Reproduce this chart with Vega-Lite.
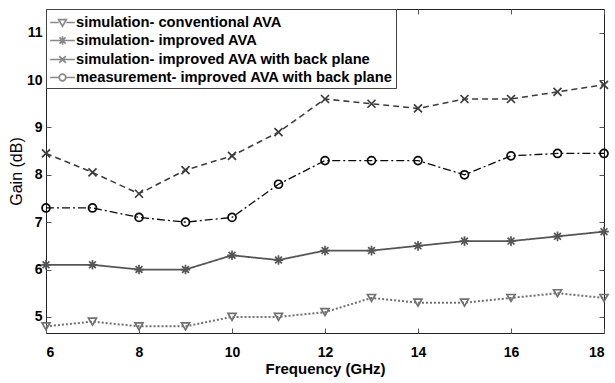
{
  "$schema": "https://vega.github.io/schema/vega-lite/v6.json",
  "width": 558,
  "height": 324,
  "autosize": {"type": "none"},
  "padding": {"left": 46, "top": 9, "right": 11, "bottom": 50},
  "background": "white",
  "config": {
    "view": {"stroke": "#222", "strokeWidth": 1},
    "font": "Liberation Sans",
    "legend": {
      "orient": "none",
      "legendX": 0,
      "legendY": 0,
      "labelFont": "Liberation Sans",
      "labelFontSize": 14.7,
      "labelFontWeight": "bold",
      "labelColor": "black",
      "fillColor": "white",
      "strokeColor": "#444",
      "padding": 3,
      "rowPadding": 0,
      "symbolOpacity": 1,
      "symbolStrokeWidth": 1.7,
      "symbolSize": 361,
      "symbolOffset": 3,
      "labelOffset": 3,
      "labelLimit": 0,
      "cornerRadius": 0
    }
  },
  "data": {
    "values": [
      {"f": 6, "g": 4.8, "s": "simulation- conventional AVA"},
      {"f": 7, "g": 4.9, "s": "simulation- conventional AVA"},
      {"f": 8, "g": 4.8, "s": "simulation- conventional AVA"},
      {"f": 9, "g": 4.8, "s": "simulation- conventional AVA"},
      {"f": 10, "g": 5.0, "s": "simulation- conventional AVA"},
      {"f": 11, "g": 5.0, "s": "simulation- conventional AVA"},
      {"f": 12, "g": 5.1, "s": "simulation- conventional AVA"},
      {"f": 13, "g": 5.4, "s": "simulation- conventional AVA"},
      {"f": 14, "g": 5.3, "s": "simulation- conventional AVA"},
      {"f": 15, "g": 5.3, "s": "simulation- conventional AVA"},
      {"f": 16, "g": 5.4, "s": "simulation- conventional AVA"},
      {"f": 17, "g": 5.5, "s": "simulation- conventional AVA"},
      {"f": 18, "g": 5.4, "s": "simulation- conventional AVA"},
      {"f": 6, "g": 6.1, "s": "simulation- improved AVA"},
      {"f": 7, "g": 6.1, "s": "simulation- improved AVA"},
      {"f": 8, "g": 6.0, "s": "simulation- improved AVA"},
      {"f": 9, "g": 6.0, "s": "simulation- improved AVA"},
      {"f": 10, "g": 6.3, "s": "simulation- improved AVA"},
      {"f": 11, "g": 6.2, "s": "simulation- improved AVA"},
      {"f": 12, "g": 6.4, "s": "simulation- improved AVA"},
      {"f": 13, "g": 6.4, "s": "simulation- improved AVA"},
      {"f": 14, "g": 6.5, "s": "simulation- improved AVA"},
      {"f": 15, "g": 6.6, "s": "simulation- improved AVA"},
      {"f": 16, "g": 6.6, "s": "simulation- improved AVA"},
      {"f": 17, "g": 6.7, "s": "simulation- improved AVA"},
      {"f": 18, "g": 6.8, "s": "simulation- improved AVA"},
      {"f": 6, "g": 8.45, "s": "simulation- improved AVA with back plane"},
      {"f": 7, "g": 8.05, "s": "simulation- improved AVA with back plane"},
      {"f": 8, "g": 7.6, "s": "simulation- improved AVA with back plane"},
      {"f": 9, "g": 8.1, "s": "simulation- improved AVA with back plane"},
      {"f": 10, "g": 8.4, "s": "simulation- improved AVA with back plane"},
      {"f": 11, "g": 8.9, "s": "simulation- improved AVA with back plane"},
      {"f": 12, "g": 9.6, "s": "simulation- improved AVA with back plane"},
      {"f": 13, "g": 9.5, "s": "simulation- improved AVA with back plane"},
      {"f": 14, "g": 9.4, "s": "simulation- improved AVA with back plane"},
      {"f": 15, "g": 9.6, "s": "simulation- improved AVA with back plane"},
      {"f": 16, "g": 9.6, "s": "simulation- improved AVA with back plane"},
      {"f": 17, "g": 9.75, "s": "simulation- improved AVA with back plane"},
      {"f": 18, "g": 9.9, "s": "simulation- improved AVA with back plane"},
      {"f": 6, "g": 7.3, "s": "measurement- improved AVA with back plane"},
      {"f": 7, "g": 7.3, "s": "measurement- improved AVA with back plane"},
      {"f": 8, "g": 7.1, "s": "measurement- improved AVA with back plane"},
      {"f": 9, "g": 7.0, "s": "measurement- improved AVA with back plane"},
      {"f": 10, "g": 7.1, "s": "measurement- improved AVA with back plane"},
      {"f": 11, "g": 7.8, "s": "measurement- improved AVA with back plane"},
      {"f": 12, "g": 8.3, "s": "measurement- improved AVA with back plane"},
      {"f": 13, "g": 8.3, "s": "measurement- improved AVA with back plane"},
      {"f": 14, "g": 8.3, "s": "measurement- improved AVA with back plane"},
      {"f": 15, "g": 8.0, "s": "measurement- improved AVA with back plane"},
      {"f": 16, "g": 8.4, "s": "measurement- improved AVA with back plane"},
      {"f": 17, "g": 8.45, "s": "measurement- improved AVA with back plane"},
      {"f": 18, "g": 8.45, "s": "measurement- improved AVA with back plane"}
    ]
  },
  "layer": [
    {
      "mark": {"type": "line"},
      "encoding": {
        "x": {"field": "f", "type": "quantitative", "scale": {"domain": [6, 18], "nice": false},
          "axis": {"orient": "bottom", "values": [6, 8, 10, 12, 14, 16, 18], "tickSize": -5, "tickColor": "#555", "domain": false, "grid": false,
            "labelFont": "Liberation Sans", "labelFontSize": 14, "labelFontWeight": "bold", "labelColor": "black", "labelPadding": 17,
            "title": "Frequency (GHz)", "titleFont": "Liberation Sans", "titleFontSize": 15, "titleFontWeight": "bold", "titleColor": "black", "titlePadding": 2}},
        "y": {"field": "g", "type": "quantitative", "scale": {"domain": [4.66, 11.5], "nice": false, "zero": false},
          "axis": {"orient": "left", "values": [5, 6, 7, 8, 9, 10, 11], "tickSize": -5, "tickColor": "#555", "domain": false, "grid": false,
            "labelFont": "Liberation Sans", "labelFontSize": 14, "labelFontWeight": "bold", "labelColor": "black", "labelPadding": 9,
            "title": "Gain (dB)", "titleFont": "Liberation Sans", "titleFontSize": 16, "titleFontWeight": "normal", "titleColor": "black", "titlePadding": 2}},
        "stroke": {"field": "s", "type": "nominal",
          "scale": {"domain": ["simulation- conventional AVA", "simulation- improved AVA", "simulation- improved AVA with back plane", "measurement- improved AVA with back plane"],
            "range": ["#707070", "#555555", "#3c3c3c", "#0a0a0a"]}, "legend": null},
        "strokeDash": {"field": "s", "type": "nominal",
          "scale": {"domain": ["simulation- conventional AVA", "simulation- improved AVA", "simulation- improved AVA with back plane", "measurement- improved AVA with back plane"],
            "range": [[2, 2], [1, 0], [6, 4], [8, 3, 2, 3]]}, "legend": null},
        "strokeWidth": {"field": "s", "type": "ordinal",
          "scale": {"domain": ["simulation- conventional AVA", "simulation- improved AVA", "simulation- improved AVA with back plane", "measurement- improved AVA with back plane"],
            "range": [2, 1.3, 2, 2.2]}, "legend": null}
      }
    },
    {
      "mark": {"type": "point", "filled": false, "strokeWidth": 1.7, "size": 64, "opacity": 1},
      "encoding": {
        "x": {"field": "f", "type": "quantitative", "axis": null},
        "y": {"field": "g", "type": "quantitative", "axis": null},
        "stroke": {"field": "s", "type": "nominal", "legend": null},
        "shape": {"field": "s", "type": "nominal",
          "scale": {"domain": ["simulation- conventional AVA", "simulation- improved AVA", "simulation- improved AVA with back plane", "measurement- improved AVA with back plane"],
            "range": ["triangle-down", "M-1.2,0H1.2M0,-1.2V1.2M-0.85,-0.85L0.85,0.85M-0.85,0.85L0.85,-0.85", "M-1,-1L1,1M-1,1L1,-1", "circle"]},
          "legend": null}
      }
    },
    {
      "mark": {"type": "point", "filled": false, "strokeWidth": 1.7, "size": 361, "opacity": 0},
      "encoding": {
        "x": {"field": "f", "type": "quantitative",
          "axis": {"orient": "top", "values": [6, 8, 10, 12, 14, 16, 18], "tickSize": -5, "tickColor": "#555", "domain": false, "grid": false, "labels": false, "title": null}},
        "y": {"field": "g", "type": "quantitative",
          "axis": {"orient": "right", "values": [5, 6, 7, 8, 9, 10, 11], "tickSize": -5, "tickColor": "#555", "domain": false, "grid": false, "labels": false, "title": null}},
        "stroke": {"field": "s", "type": "nominal", "legend": {"title": null, "symbolOpacity": 1}},
        "shape": {"field": "s", "type": "nominal",
          "scale": {"domain": ["simulation- conventional AVA", "simulation- improved AVA", "simulation- improved AVA with back plane", "measurement- improved AVA with back plane"],
            "range": [
              "M-1.3,0H-0.4M0.4,0H1.3M-0.4,-0.3H0.4L0,0.4Z",
              "M-1.3,0H1.3M0,-0.45V0.45M-0.32,-0.32L0.32,0.32M-0.32,0.32L0.32,-0.32",
              "M-1.3,0H1.3M-0.35,-0.35L0.35,0.35M-0.35,0.35L0.35,-0.35",
              "M-1.3,0H-0.35M0.35,0H1.3M-0.35,0A0.35,0.35 0 1,0 0.35,0A0.35,0.35 0 1,0 -0.35,0"
            ]},
          "legend": {"title": null, "symbolOpacity": 1}}
      }
    }
  ],
  "resolve": {"scale": {"shape": "independent"}, "axis": {"x": "independent", "y": "independent"}}
}
